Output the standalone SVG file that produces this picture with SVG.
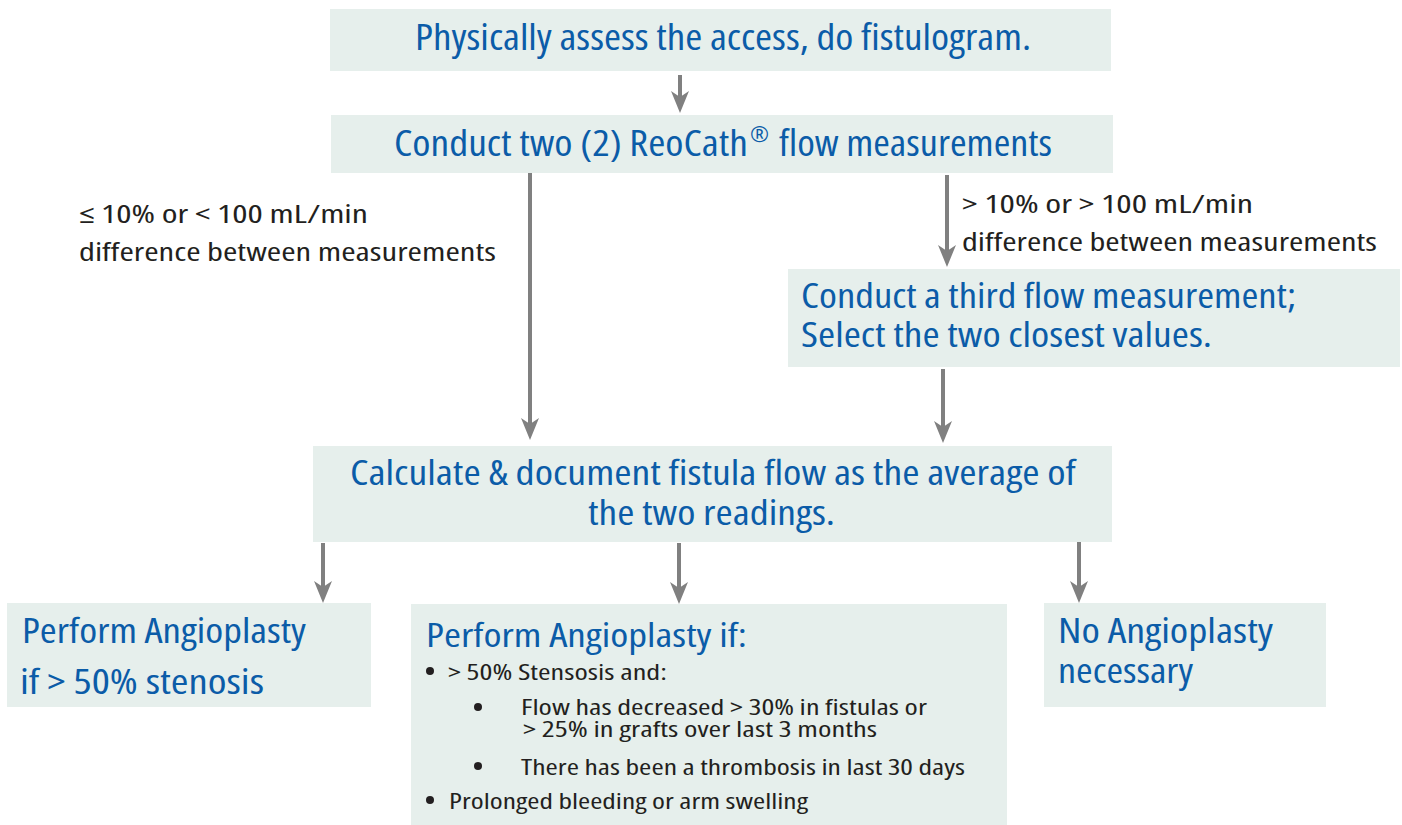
<svg xmlns="http://www.w3.org/2000/svg" width="1402" height="825" viewBox="0 0 1402 825">
<defs>
<style>
.box{fill:#e6efec}
.t{font-family:"Open Sans","Liberation Sans",sans-serif;font-stretch:condensed;fill:#0b5ca8}
.d{font-family:"Open Sans","Liberation Sans",sans-serif;font-stretch:condensed;fill:#231f20}
.b{fill:#231f20}
.conn{stroke:#808080;stroke-width:4;fill:none;marker-end:url(#ah)}
</style>
<marker id="ah" markerUnits="userSpaceOnUse" viewBox="0 0 22 18" markerWidth="22" markerHeight="18" refX="12" refY="9" orient="auto">
<path d="M22,9 L0,0 L6,9 L0,18 Z" fill="#808080"/>
</marker>
</defs>
<rect width="1402" height="825" fill="#ffffff"/>

<g id="connectors">
<line class="conn" x1="680" y1="75" x2="680" y2="103"/>
<line class="conn" x1="530" y1="173" x2="530" y2="430"/>
<line class="conn" x1="947" y1="175" x2="947" y2="257"/>
<line class="conn" x1="943" y1="369" x2="943" y2="433"/>
<line class="conn" x1="323" y1="543" x2="323" y2="593"/>
<line class="conn" x1="679" y1="543" x2="679" y2="594"/>
<line class="conn" x1="1079" y1="538" x2="1079" y2="593"/>
</g>

<g id="label-left">
<text class="d" x="79" y="223" font-size="26" textLength="289" lengthAdjust="spacingAndGlyphs">≤ 10% or &lt; 100 mL/min</text>
<text class="d" x="79" y="261" font-size="26" textLength="417" lengthAdjust="spacingAndGlyphs">difference between measurements</text>
</g>
<g id="label-right">
<text class="d" x="962" y="213" font-size="26" textLength="291" lengthAdjust="spacingAndGlyphs">&gt; 10% or &gt; 100 mL/min</text>
<text class="d" x="962" y="251" font-size="26" textLength="415" lengthAdjust="spacingAndGlyphs">difference between measurements</text>
</g>

<g id="n1">
<rect class="box" x="330" y="9" width="781" height="62"/>
<text class="t" x="415" y="50" font-size="37" textLength="616" lengthAdjust="spacingAndGlyphs">Physically assess the access, do fistulogram.</text>
</g>

<g id="n2">
<rect class="box" x="331" y="115" width="782" height="58"/>
<text class="t" x="394" y="156" font-size="37" textLength="354" lengthAdjust="spacingAndGlyphs">Conduct two (2) ReoCath</text>
<text class="t" x="750" y="142" font-size="21" textLength="19" lengthAdjust="spacingAndGlyphs">®</text>
<text class="t" x="779" y="156" font-size="37" textLength="273" lengthAdjust="spacingAndGlyphs">flow measurements</text>
</g>

<g id="n3">
<rect class="box" x="788" y="269" width="612" height="98"/>
<text class="t" x="801" y="308" font-size="34" textLength="495" lengthAdjust="spacingAndGlyphs">Conduct a third flow measurement;</text>
<text class="t" x="801" y="347" font-size="34" textLength="411" lengthAdjust="spacingAndGlyphs">Select the two closest values.</text>
</g>

<g id="n4">
<rect class="box" x="313" y="446" width="799" height="96"/>
<text class="t" x="350" y="485" font-size="34" textLength="726" lengthAdjust="spacingAndGlyphs">Calculate &amp; document fistula flow as the average of</text>
<text class="t" x="588" y="525" font-size="34" textLength="247" lengthAdjust="spacingAndGlyphs">the two readings.</text>
</g>

<g id="n5">
<rect class="box" x="7" y="603" width="364" height="104"/>
<text class="t" x="22" y="643" font-size="34" textLength="284" lengthAdjust="spacingAndGlyphs">Perform Angioplasty</text>
<text class="t" x="20" y="694" font-size="34" textLength="244" lengthAdjust="spacingAndGlyphs">if &gt; 50% stenosis</text>
</g>

<g id="n6">
<rect class="box" x="411" y="604" width="596" height="221"/>
<text class="t" x="426" y="647" font-size="33" textLength="321" lengthAdjust="spacingAndGlyphs">Perform Angioplasty if:</text>
<circle class="b" cx="430" cy="671" r="4"/>
<text class="d" x="448" y="680" font-size="22" textLength="219" lengthAdjust="spacingAndGlyphs">&gt; 50% Stensosis and:</text>
<circle class="b" cx="478" cy="707" r="4"/>
<text class="d" x="521" y="715" font-size="22" textLength="406" lengthAdjust="spacingAndGlyphs">Flow has decreased &gt; 30% in fistulas or</text>
<text class="d" x="523" y="737" font-size="22" textLength="354" lengthAdjust="spacingAndGlyphs">&gt; 25% in grafts over last 3 months</text>
<circle class="b" cx="478" cy="766" r="4"/>
<text class="d" x="521" y="775" font-size="22" textLength="444" lengthAdjust="spacingAndGlyphs">There has been a thrombosis in last 30 days</text>
<circle class="b" cx="430" cy="800" r="4"/>
<text class="d" x="449" y="809" font-size="22" textLength="359" lengthAdjust="spacingAndGlyphs">Prolonged bleeding or arm swelling</text>
</g>

<g id="n7">
<rect class="box" x="1044" y="603" width="282" height="104"/>
<text class="t" x="1058" y="643" font-size="34" textLength="215" lengthAdjust="spacingAndGlyphs">No Angioplasty</text>
<text class="t" x="1058" y="683" font-size="34" textLength="135" lengthAdjust="spacingAndGlyphs">necessary</text>
</g>
</svg>
